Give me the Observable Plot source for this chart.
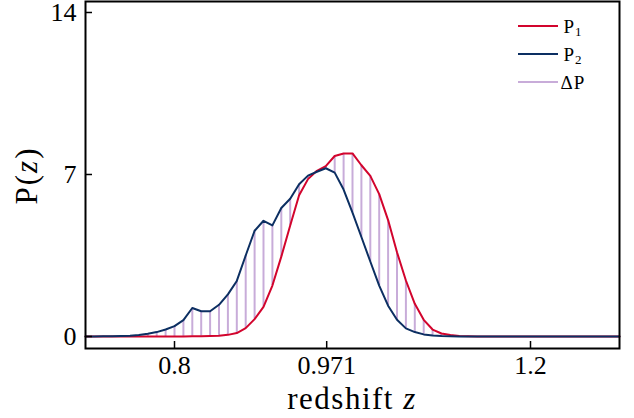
<!DOCTYPE html>
<html><head><meta charset="utf-8">
<script src="https://cdn.jsdelivr.net/npm/d3@7"></script>
<script src="https://cdn.jsdelivr.net/npm/@observablehq/plot@0.6"></script>
<style>
html,body{margin:0;padding:0;background:#fff;}
#chart svg{display:block;}
</style></head><body><div id="chart"></div>
<script>
// redshift grid (sample points)
const redshift = [0.70,0.71,0.72,0.73,0.74,0.75,0.76,0.77,0.78,0.79,
  0.80,0.81,0.82,0.83,0.84,0.85,0.86,0.87,0.88,0.89,
  0.90,0.91,0.92,0.93,0.94,0.95,0.96,0.97,0.98,0.99,
  1.00,1.01,1.02,1.03,1.04,1.05,1.06,1.07,1.08,1.09,
  1.10,1.11,1.12,1.13,1.14,1.15,1.16,1.17,1.18,1.19,
  1.20,1.21,1.22,1.23,1.24,1.25,1.26,1.27,1.28,1.29,1.30];
// P1 (red)
const p1 = [0,0,0,0,0,0,0,0,0,0,
  0,0,0.01,0.01,0.02,0.03,0.07,0.15,0.36,0.75,
  1.28,2.2,3.45,4.8,6.1,6.8,7.16,7.36,7.8,7.91,
  7.91,7.4,6.94,6.15,5.03,3.64,2.42,1.41,0.72,0.3,
  0.13,0.06,0.02,0.01,0,0,0,0,0,0,
  0,0,0,0,0,0,0,0,0,0,0];
// P2 (blue)
const p2 = [0,0,0.01,0.01,0.02,0.03,0.06,0.12,0.19,0.3,
  0.45,0.71,1.23,1.09,1.09,1.37,1.82,2.4,3.5,4.57,
  5.0,4.8,5.55,5.95,6.58,6.95,7.12,7.27,7.08,6.35,
  5.35,4.3,3.24,2.2,1.33,0.72,0.35,0.19,0.09,0.04,
  0.02,0.01,0,0,0,0,0,0,0,0,
  0,0,0,0,0,0,0,0,0,0,0];
const xTicks = [0.8, 0.971, 1.2];
const xTickLabels = ["0.8", "0.971", "1.2"];
const yTicks = [0, 7, 14];
const legendNames = [["P","1"], ["P","2"], ["ΔP",""]];

const RED = "#d2042d", BLUE = "#0c2f62", PURPLE = "#c8acd9";
const rows = redshift.map((z, i) => ({z, p1: p1[i], p2: p2[i]}));
const FONT = "'Liberation Serif', serif";

const plot = Plot.plot({
  width: 634, height: 418,
  marginLeft: 85, marginRight: 15, marginTop: 1, marginBottom: 70,
  style: {fontFamily: FONT, fontSize: "26px", background: "#fff", color: "#000"},
  x: {domain: [0.7, 1.3]},
  y: {domain: [-0.519, 14.475]},
  marks: [
    Plot.ruleX(rows, {x: "z", y1: "p1", y2: "p2", stroke: PURPLE, strokeWidth: 2}),
    Plot.line(rows, {x: "z", y: "p1", stroke: RED, strokeWidth: 2}),
    Plot.line(rows, {x: "z", y: "p2", stroke: BLUE, strokeWidth: 2}),
    Plot.frame({stroke: "#000", strokeWidth: 2}),
    Plot.axisX({ticks: xTicks, tickFormat: d => xTickLabels[xTicks.indexOf(d)], tickSize: -7, tickPadding: 14, strokeWidth: 1.5, fontSize: 26, label: null}),
    Plot.axisY({ticks: yTicks, tickSize: -7, tickPadding: 16, strokeWidth: 1.5, fontSize: 26, label: null})
  ]
});
document.getElementById("chart").appendChild(plot);

const svg = d3.select(plot);
const xr = plot.scale("x").range, yr = plot.scale("y").range;
// x label
const xl = svg.append("text")
  .attr("x", (xr[0] + xr[1]) / 2).attr("y", 409)
  .attr("text-anchor", "middle")
  .style("font-family", FONT).style("font-size", "31px")
  .style("letter-spacing", "1.5px").attr("fill", "#000");
xl.append("tspan").text("redshift ");
xl.append("tspan").style("font-style", "italic").text("z");
// y label
const yl = svg.append("text")
  .attr("transform", `translate(37,${(yr[0] + yr[1]) / 2 + 1}) rotate(-90)`)
  .attr("text-anchor", "middle")
  .style("font-family", FONT).style("font-size", "31px")
  .style("letter-spacing", "2px").attr("fill", "#000");
yl.append("tspan").text("P(");
yl.append("tspan").style("font-style", "italic").text("z");
yl.append("tspan").text(")");
// legend
const colors = [RED, BLUE, PURPLE];
const ly = [26, 54, 82];
const lg = svg.append("g");
legendNames.forEach((n, i) => {
  lg.append("line").attr("x1", 518).attr("x2", 558).attr("y1", ly[i]).attr("y2", ly[i])
    .attr("stroke", colors[i]).attr("stroke-width", 2);
  const t = lg.append("text").attr("x", 573).attr("y", ly[i] + 7)
    .style("font-family", FONT).style("font-size", "19px")
    .style("letter-spacing", "1px").attr("fill", "#000");
  t.append("tspan").text(n[0]);
  if (n[1]) t.append("tspan").attr("dy", 3).style("font-size", "13px").text(n[1]);
});
</script></body></html>
